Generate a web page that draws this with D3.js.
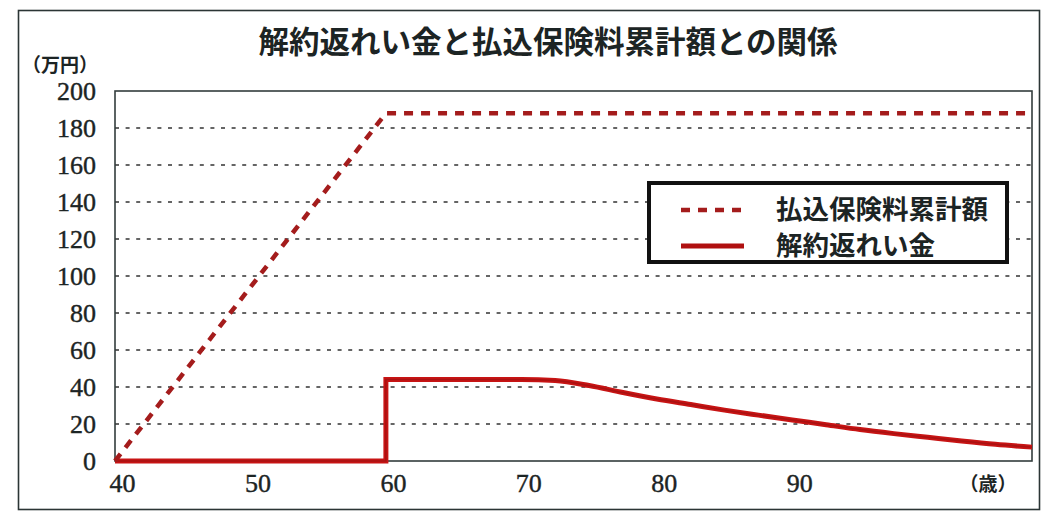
<!DOCTYPE html>
<html><head><meta charset="utf-8">
<script src="https://cdn.jsdelivr.net/npm/d3@7/dist/d3.min.js"></script>
<style>
html,body{margin:0;padding:0;background:#fff;}
svg{display:block;}
svg text.numlab{font-family:'Liberation Serif','DejaVu Serif',serif !important;font-size:26px !important;}
</style></head>
<body>
<script>
// ---- data ----
const title = "解約返れい金と払込保険料累計額との関係";
const yUnit = "（万円）";
const xUnit = "（歳）";
const xTicks = [40, 50, 60, 70, 80, 90];
const yTicks = [0, 20, 40, 60, 80, 100, 120, 140, 160, 180, 200];
const seriesNames = ["払込保険料累計額", "解約返れい金"];
const payAges = [40, 60, 107.7];
const payValues = [0, 188, 188];
const surAges = [40, 60, 60, 65, 70, 72.5, 75, 77.5, 80, 82.5, 85, 87.5, 90, 92.5, 95, 97.5, 100, 102.5, 105, 107.7];
const surValues = [0, 0, 44, 44, 44, 43.5, 40.8, 37, 33.5, 30.5, 27.5, 24.8, 22.2, 19.6, 17, 14.8, 12.8, 10.8, 9, 7.5];
const xDomain = [40, 107.7];
const yDomain = [0, 200];

const NUM_FONT = "Liberation Serif";

// ---- layout ----
const W = 1044, H = 517;
const svg = d3.select("body").append("svg").attr("width", W).attr("height", H);
const x = d3.scaleLinear().domain(xDomain).range([115, 1032]);
const y = d3.scaleLinear().domain(yDomain).range([461, 91]);

// outer frame
svg.append("rect").attr("x", 18.5).attr("y", 10.5).attr("width", 1021).attr("height", 499)
  .attr("fill", "none").attr("stroke", "#2b3535").attr("stroke-width", 1.6);

// title
svg.append("text").attr("x", 548).attr("y", 53).attr("text-anchor", "middle")
  .attr("font-family", "Noto Sans CJK JP").attr("font-weight", 700).attr("font-size", 30.5)
  .attr("fill", "#1c2424").text(title);

// y unit
svg.append("text").attr("x", 22).attr("y", 72)
  .attr("font-family", "Noto Sans CJK JP").attr("font-size", 19).attr("font-weight", 700)
  .attr("fill", "#1c2424").text(yUnit);

// gridlines
svg.append("g").selectAll("line").data(yTicks.filter(d => d > 0 && d < 200)).join("line")
  .attr("x1", x.range()[0]).attr("x2", x.range()[1])
  .attr("y1", d => y(d)).attr("y2", d => y(d))
  .attr("stroke", "#333").attr("stroke-width", 1.6).attr("stroke-dasharray", "4,6.6");

// plot border
svg.append("rect").attr("x", x.range()[0]).attr("y", y(200)).attr("width", x.range()[1] - x.range()[0])
  .attr("height", y(0) - y(200)).attr("fill", "none").attr("stroke", "#333d3d").attr("stroke-width", 1.6);

// y axis labels
const yAxis = d3.axisLeft(y).tickValues(yTicks).tickSize(0).tickPadding(0);
const gy = svg.append("g").attr("class", "yaxis").attr("transform", "translate(96,0)").call(yAxis);
gy.attr("font-family", NUM_FONT).attr("font-size", 26);
gy.select(".domain").remove();
gy.selectAll(".tick").attr("class", "ytick");
gy.selectAll("text").attr("class", "numlab")
  .attr("font-family", NUM_FONT).attr("font-size", 26)
  .attr("fill", "#1c2424").attr("stroke", "#1c2424").attr("stroke-width", 0.4)
  .attr("dy", "0.34em");

// x axis labels
const xAxis = d3.axisBottom(x).tickValues(xTicks).tickSize(0).tickPadding(0);
const gx = svg.append("g").attr("class", "xaxis").attr("transform", "translate(7,474)").call(xAxis);
gx.attr("font-family", NUM_FONT).attr("font-size", 26);
gx.select(".domain").remove();
gx.selectAll(".tick").attr("class", "xtick");
gx.selectAll("text").attr("class", "numlab")
  .attr("font-family", NUM_FONT).attr("font-size", 26)
  .attr("fill", "#1c2424").attr("stroke", "#1c2424").attr("stroke-width", 0.4)
  .attr("dy", "0.71em");

svg.append("text").attr("x", 988).attr("y", 491).attr("text-anchor", "middle")
  .attr("font-family", "Noto Sans CJK JP").attr("font-size", 19).attr("font-weight", 700)
  .attr("fill", "#1c2424").text(xUnit);

// lines
const payData = payAges.map((a, i) => [a, payValues[i]]);
const surData = surAges.map((a, i) => [a, surValues[i]]);
const lineLin = d3.line().x(d => x(d[0])).y(d => y(d[1]));
const lineSmooth = d3.line().x(d => x(d[0])).y(d => y(d[1])).curve(d3.curveMonotoneX);

svg.append("path").datum(surData).attr("d", lineSmooth).attr("fill", "none")
  .attr("stroke", "#c81414").attr("stroke-width", 5).attr("stroke-linejoin", "miter");
svg.append("path").datum(surData).attr("d", lineSmooth).attr("fill", "none")
  .attr("stroke", "#8a1010").attr("stroke-width", 1.5).attr("opacity", 0.5);

svg.append("path").datum(payData).attr("d", lineLin).attr("fill", "none")
  .attr("stroke", "#a41c1c").attr("stroke-width", 4.5).attr("stroke-dasharray", "9,8");

// legend
const lg = svg.append("g");
lg.append("rect").attr("x", 649).attr("y", 183).attr("width", 358).attr("height", 79)
  .attr("fill", "#fff").attr("stroke", "#111").attr("stroke-width", 4);
lg.append("line").attr("x1", 681).attr("x2", 744).attr("y1", 210).attr("y2", 210)
  .attr("stroke", "#a41c1c").attr("stroke-width", 4.5).attr("stroke-dasharray", "9,8");
lg.append("line").attr("x1", 681).attr("x2", 744).attr("y1", 246).attr("y2", 246)
  .attr("stroke", "#b01010").attr("stroke-width", 5);
lg.selectAll("text.leg").data(seriesNames).join("text").attr("class", "leg")
  .attr("x", 776).attr("y", (d, i) => 219 + i * 36)
  .attr("font-family", "Noto Sans CJK JP").attr("font-weight", 700).attr("font-size", 26.5)
  .attr("fill", "#1c2424").text(d => d);
</script>
</body></html>
